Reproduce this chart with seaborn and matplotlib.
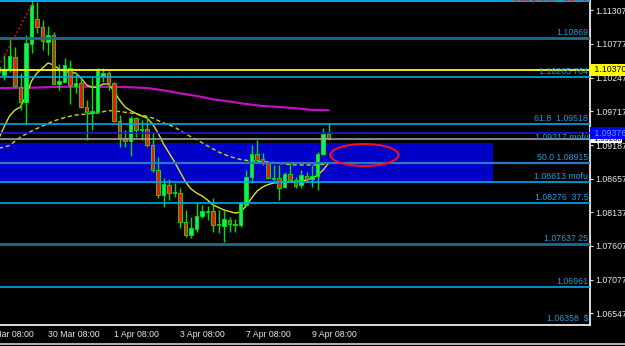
import numpy as np
import pandas as pd
import matplotlib
matplotlib.use("Agg")
import matplotlib.pyplot as plt
import matplotlib.transforms as mtransforms
from matplotlib.patches import Rectangle, Ellipse
from matplotlib.lines import Line2D
import seaborn as sns

# ---------------- data ----------------
bars = list(range(-1, 60))
opens = [1.10414, 1.10289, 1.10367, 1.10571, 1.10100, 1.09865, 1.10775, 1.11168, 1.11042, 1.10807,
         1.10917, 1.10147, 1.10179, 1.10398, 1.10116, 1.10163, 1.09786, 1.09692, 1.09708, 1.10273,
         1.10320, 1.10163, 1.09566, 1.09299, 1.09252, 1.09613, 1.09425, 1.09441, 1.09190, 1.08797,
         1.08405, 1.08562, 1.08436, 1.08436, 1.07981, 1.07777, 1.07871, 1.08075, 1.08138, 1.08153,
         1.07934, 1.07918, 1.08012, 1.07934, 1.07934, 1.08248, 1.08687, 1.09048, 1.08970, 1.08907,
         1.08656, 1.08671, 1.08530, 1.08734, 1.08640, 1.08562, 1.08703, 1.08656, 1.08703, 1.09048,
         1.09362]
highs = [1.10477, 1.10603, 1.10869, 1.10728, 1.10320, 1.10917, 1.11466, 1.11435, 1.11152, 1.11058,
         1.10964, 1.10461, 1.10555, 1.10524, 1.10320, 1.10241, 1.09896, 1.10257, 1.10398, 1.10398,
         1.10351, 1.10179, 1.09661, 1.09425, 1.09645, 1.09629, 1.09582, 1.09629, 1.09394, 1.09001,
         1.08671, 1.08656, 1.08593, 1.08514, 1.08169, 1.08059, 1.08295, 1.08248, 1.08232, 1.08357,
         1.08169, 1.08169, 1.08059, 1.08028, 1.08295, 1.08797, 1.09190, 1.09268, 1.09064, 1.08923,
         1.08876, 1.08876, 1.08766, 1.08907, 1.08687, 1.08797, 1.08766, 1.08876, 1.09080, 1.09456,
         1.09535]
lows = [1.10289, 1.10210, 1.10336, 1.10100, 1.09739, 1.09535, 1.10634, 1.10948, 1.10681, 1.10603,
        1.10132, 1.10053, 1.10163, 1.09833, 1.10006, 1.09770, 1.09268, 1.09425, 1.09692, 1.10179,
        1.10053, 1.09551, 1.09158, 1.09158, 1.09017, 1.09315, 1.09268, 1.09158, 1.08766, 1.08357,
        1.08216, 1.08326, 1.08373, 1.07886, 1.07745, 1.07729, 1.07824, 1.08043, 1.08012, 1.07824,
        1.07808, 1.07667, 1.07824, 1.07824, 1.07902, 1.08232, 1.08593, 1.08907, 1.08876, 1.08671,
        1.08640, 1.08326, 1.08514, 1.08609, 1.08514, 1.08514, 1.08609, 1.08530, 1.08483, 1.09033,
        1.09268]
closes = [1.10336, 1.10383, 1.10587, 1.10116, 1.09865, 1.10791, 1.11388, 1.11042, 1.10822, 1.10917,
          1.10147, 1.10194, 1.10446, 1.10132, 1.10163, 1.09786, 1.09708, 1.09723, 1.10351, 1.10320,
          1.10163, 1.09566, 1.09299, 1.09252, 1.09613, 1.09425, 1.09441, 1.09190, 1.08797, 1.08405,
          1.08577, 1.08436, 1.08452, 1.07981, 1.07777, 1.07886, 1.08075, 1.08153, 1.08153, 1.07934,
          1.07949, 1.08028, 1.07949, 1.07949, 1.08279, 1.08687, 1.09048, 1.08954, 1.08923, 1.08671,
          1.08671, 1.08514, 1.08734, 1.08640, 1.08546, 1.08719, 1.08656, 1.08703, 1.09048, 1.09362,
          1.09284]

fast_ma = [1.09284, 1.09472, 1.09645, 1.09739, 1.09786, 1.09959, 1.10194, 1.10320, 1.10398, 1.10477,
           1.10446, 1.10383, 1.10343, 1.10328, 1.10320, 1.10241, 1.10132, 1.10092, 1.10100, 1.10147,
           1.10147, 1.10037, 1.09896, 1.09786, 1.09731, 1.09684, 1.09645, 1.09613, 1.09519, 1.09378,
           1.09205, 1.09064, 1.08923, 1.08766, 1.08609, 1.08499, 1.08436, 1.08389, 1.08326, 1.08248,
           1.08208, 1.08169, 1.08145, 1.08122, 1.08138, 1.08232, 1.08357, 1.08467, 1.08530, 1.08569,
           1.08593, 1.08601, 1.08609, 1.08609, 1.08616, 1.08624, 1.08640, 1.08671, 1.08719, 1.08797,
           1.08907]
slow_ma_bars = list(range(-1, 60, 2))
slow_ma = [1.09135, 1.09182, 1.09315, 1.09409, 1.09488, 1.09566, 1.09621, 1.09661, 1.09676, 1.09692,
           1.09731, 1.09715, 1.09692, 1.09661, 1.09613, 1.09535, 1.09472, 1.09362, 1.09276, 1.09174,
           1.09080, 1.09009, 1.08962, 1.08938, 1.08930, 1.08915, 1.08891, 1.08876, 1.08876, 1.08876,
           1.08899]
long_ma_bars = [-1, 5, 10, 16, 22, 26, 29, 32, 35, 38, 41, 44, 47, 50, 53, 56, 59]
long_ma = [1.10084, 1.10089, 1.10103, 1.10105, 1.10100, 1.10084, 1.10048, 1.10001, 1.09959, 1.09906,
           1.09872, 1.09833, 1.09802, 1.09786, 1.09766, 1.09739, 1.09734]

level_prices = [1.10869, 1.10265, 1.09518, 1.08915, 1.08613, 1.08276, 1.07637, 1.06961]
level_labels = ["1.10869", "1.10265 764", "61.8  1.09518", "50.0 1.08915",
                "1.08613 mofu", "1.08276  37.5", "1.07637 25", "1.06961"]
top_level = 1.11451
zone_top, zone_bottom = 1.09217, 1.08613
zone_label = "1.09217 mofu"
zone_end_bar = 88.9
bottom_label = "1.06358  $"
order_price = 1.10370
bid_price = 1.09376
grey_price = 1.09280

trade_bars = [-1.45, 5.1]
trade_prices = [1.10343, 1.11403]

y_ticks = [1.11307, 1.10777, 1.10247, 1.09717, 1.09187, 1.08657, 1.08137, 1.07607, 1.07077, 1.06547]
x_tick_bars = [-4, 8, 20, 32, 44, 56]
x_tick_labels = ["26 Mar 08:00", "30 Mar 08:00", "1 Apr 08:00", "3 Apr 08:00",
                 "7 Apr 08:00", "9 Apr 08:00"]
profit_text = "Total profit:  -82.40"

# ---------------- styling ----------------
sns.set_theme(style="dark")
plt.rcParams["font.family"] = ["Liberation Sans", "DejaVu Sans"]
FS = 6.3
LBL = "#1e9be0"
LINE_BRIGHT = "#00aaee"
LINE_DARK = "#1f6d8c"

fig = plt.figure(figsize=(6.25, 3.46), dpi=100, facecolor="black")
ax = fig.add_axes([0, 1 - 325 / 346, 590 / 625, 325 / 346])
ax.set_facecolor("black")
ax.grid(False)
ax.set_xlim(-0.727, 106.5)
ax.set_ylim(1.06364, 1.11466)

# zone rectangle (background)
ax.add_patch(Rectangle((-5, zone_bottom), zone_end_bar + 5, zone_top - zone_bottom,
                       facecolor="#0000c8", edgecolor="none", zorder=0.5))

# horizontal levels
level_style = {
    "1.10869": (LINE_DARK, 2.0), "1.10265 764": (LINE_BRIGHT, 1.2),
    "61.8  1.09518": (LINE_BRIGHT, 1.2), "50.0 1.08915": ("#2a78c8", 1.6),
    "1.08613 mofu": (LINE_BRIGHT, 1.2), "1.08276  37.5": (LINE_BRIGHT, 1.2),
    "1.07637 25": (LINE_DARK, 2.0), "1.06961": (LINE_BRIGHT, 1.2),
}
for p, lab in zip(level_prices, level_labels):
    c, w = level_style[lab]
    ax.axhline(p, color=c, lw=w, zorder=5)
    ax.text(106.2, p + 0.00012, lab, color=LBL, fontsize=FS, ha="right", va="bottom", zorder=8)
ax.axhline(top_level, color=LINE_BRIGHT, lw=1.4, zorder=5)
ax.axhline(order_price, color="#ffff00", lw=1.3, zorder=5)
ax.axhline(bid_price, color="#1a1ae0", lw=1.2, zorder=5)
ax.axhline(grey_price, color="#a0a0a0", lw=1.2, zorder=5)
ax.text(106.2, zone_top + 0.00012, zone_label, color=LBL, fontsize=FS, ha="right", va="bottom", zorder=8)
ax.text(106.2, ax.get_ylim()[0] + 0.00025, bottom_label, color=LBL, fontsize=FS,
        ha="right", va="bottom", zorder=8)

# moving averages
sns.lineplot(x=long_ma_bars, y=long_ma, ax=ax, color="#c010c0", lw=1.6, legend=False, zorder=2)
sns.lineplot(x=bars, y=fast_ma, ax=ax, color="#e0e020", lw=1.0, legend=False, zorder=2)
sns.lineplot(x=slow_ma_bars, y=slow_ma, ax=ax, color="#d0d020", lw=1.0,
             linestyle=(0, (3, 2)), legend=False, zorder=2)

# candles
o = np.array(opens); c = np.array(closes); h = np.array(highs); l = np.array(lows)
bull = c >= o
wick = "#00e000"
ax.vlines(bars, l, h, color=wick, lw=1.0, zorder=3)
body_h = np.maximum(np.abs(c - o), 0.00010)
body_b = np.minimum(o, c)
ax.bar(bars, body_h, bottom=body_b, width=0.66,
       color=np.where(bull, "#10f060", "#ff1010"), edgecolor=wick, linewidth=0.7, zorder=4)

# trade line and hand-drawn circle
ax.plot(trade_bars, trade_prices, color="#e01010", lw=1.2, ls=(0, (1, 1.5)), zorder=6)
ax.add_patch(Ellipse((65.5, 1.09033), 12.4, 0.00345, fill=False, ec="#ff1010", lw=1.4, zorder=7))

# axes / ticks
for s in ["top", "left"]:
    ax.spines[s].set_visible(False)
for s in ["right", "bottom"]:
    ax.spines[s].set_color("white")
    ax.spines[s].set_linewidth(1.2)
ax.yaxis.tick_right()
ax.set_yticks(y_ticks)
ax.set_yticklabels([f"{v:.5f}" for v in y_ticks])
ax.tick_params(axis="y", colors="#e8e8e8", labelsize=FS, length=2.5, width=0.8, pad=1.5)
ax.set_xticks([b for b in x_tick_bars if b >= -0.727])
ax.set_xticklabels([])
ax.tick_params(axis="x", colors="#e8e8e8", length=2, width=0.8)
blend = mtransforms.blended_transform_factory(ax.transData, ax.transAxes)
for b, lab in zip(x_tick_bars, x_tick_labels):
    ax.text(b, -0.014, lab, transform=blend, color="#e8e8e8", fontsize=FS,
            ha="left", va="top", clip_on=False)

# price boxes on axis
yblend = mtransforms.blended_transform_factory(ax.transAxes, ax.transData)
ax.text(1.003, order_price, " 1.10370", transform=yblend, fontsize=FS, color="black",
        ha="left", va="center", clip_on=False, zorder=20,
        bbox=dict(boxstyle="square,pad=0.2", fc="#ffff00", ec="none"))
ax.text(1.003, bid_price, " 1.09376", transform=yblend, fontsize=FS, color="#50a8ff",
        ha="left", va="center", clip_on=False, zorder=20,
        bbox=dict(boxstyle="square,pad=0.15", fc="#0000ff", ec="none"))
ax.text(1.003, grey_price - 0.00005, " 1.09280", transform=yblend, fontsize=FS - 0.8, color="black",
        ha="left", va="center", clip_on=False, zorder=19,
        bbox=dict(boxstyle="square,pad=0.05", fc="white", ec="none"))

# cut-off profit text at top
ax.text(106.2, 1.11482, profit_text, color="#e01010", fontsize=FS + 0.5, ha="right", va="center",
        zorder=9, clip_on=False)

fig.add_artist(Line2D([0, 1], [1 - 343.5 / 346] * 2, color="#d0d0d0", lw=1.2))

fig.savefig("out.png", dpi=100, facecolor="black")
